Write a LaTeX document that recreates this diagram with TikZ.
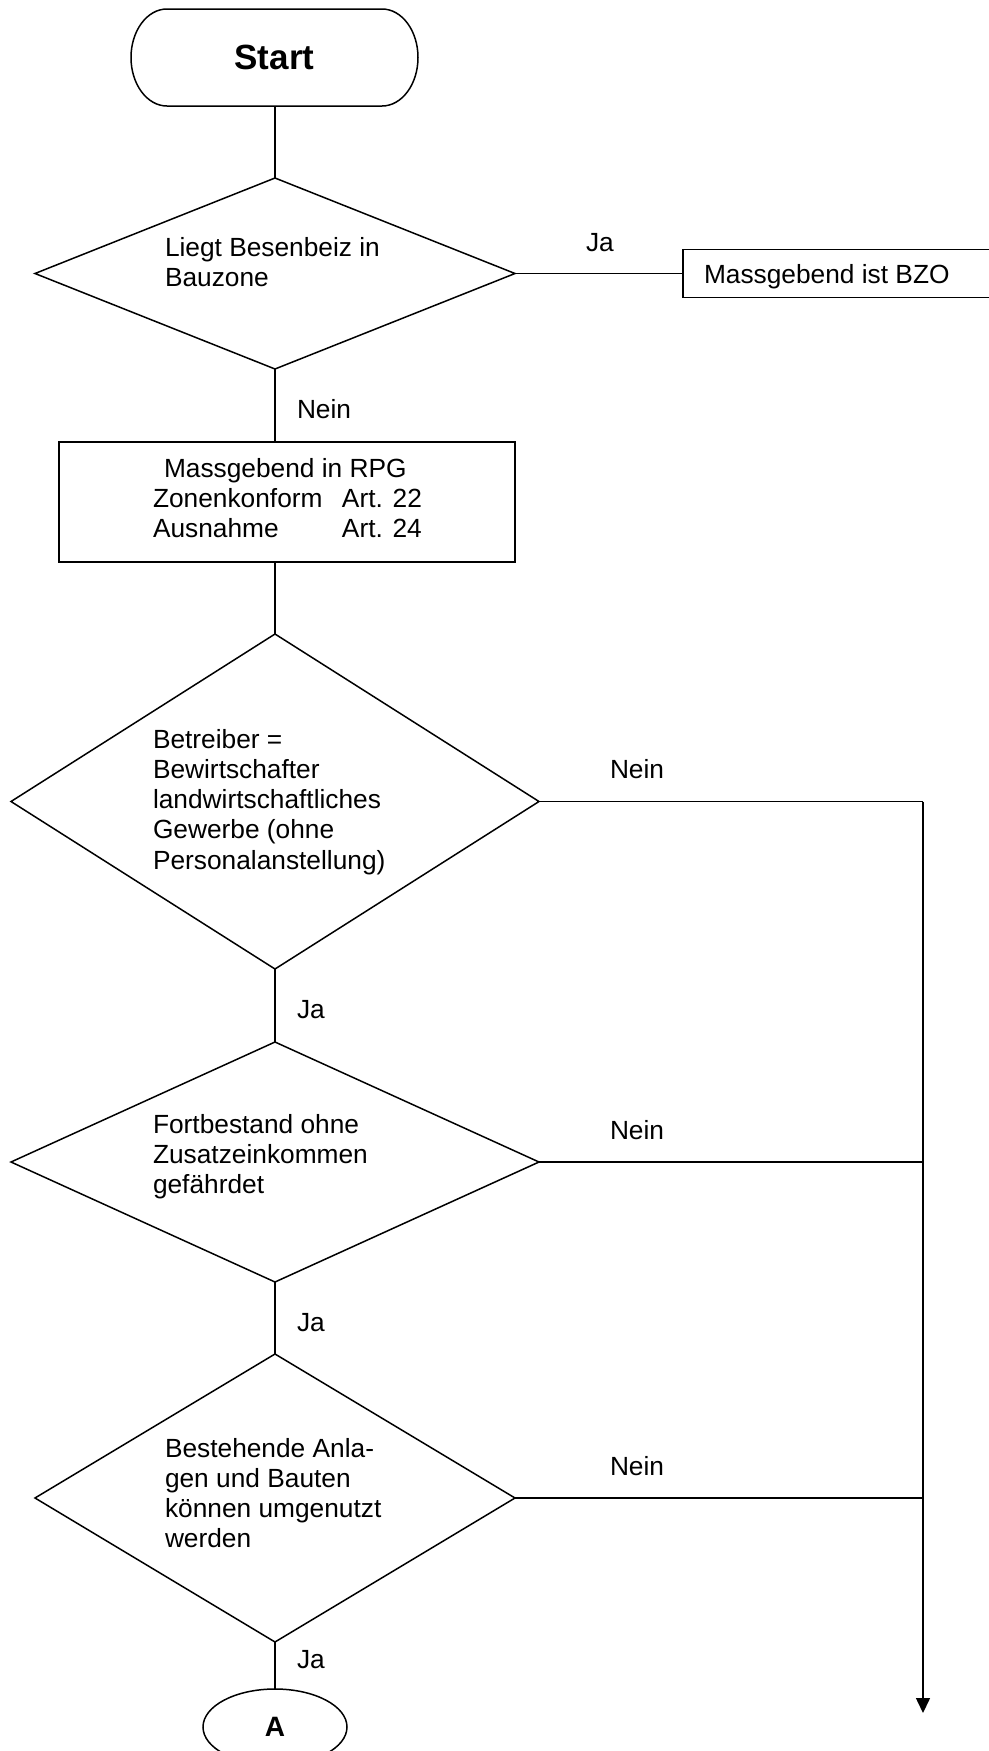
\documentclass[tikz,border=0pt]{standalone}
\usepackage{fontspec}
\setmainfont{Liberation Sans}
\usetikzlibrary{shapes.geometric,arrows.meta}
\begin{document}
\begin{tikzpicture}[x=1pt,y=-1pt,line width=1.5pt,
  every node/.style={inner sep=0pt,outer sep=0pt},
  dec/.style 2 args={draw,diamond,minimum width=#1,minimum height=#2},
  stepbox/.style={draw,rectangle},
  txt/.style={anchor=north west,align=left,font=\fontsize{26.3}{30.3}\selectfont},
  lbl/.style={anchor=base west,font=\fontsize{26.3}{30.3}\selectfont},
  tip/.style={-{Triangle[length=15pt,width=14pt]}}]
\useasboundingbox (0,0) rectangle (988,1751);
% nodes
\node[minimum width=287pt,minimum height=97pt] (start) at (274.5,57.5)
  {\fontsize{35}{40}\selectfont\bfseries Start};
\draw ([xshift=36pt]start.north west) -- ([xshift=-36pt]start.north east)
  arc[start angle=90,end angle=-90,x radius=36pt,y radius=48.5pt]
  -- ([xshift=36pt]start.south west)
  arc[start angle=270,end angle=90,x radius=36pt,y radius=48.5pt] -- cycle;
\node[dec={480pt}{191pt}] (d1) at (275,273.5) {};
\node[txt] (t1) at (165,{256-21.2}) {\strut Liegt Besenbeiz in\\Bauzone};
\node[stepbox,anchor=west,minimum width=330pt,minimum height=48pt] (bzo) at (683,273.5) {};
\node[lbl] (bzot) at (704,283) {Massgebend ist BZO};
\node[stepbox,minimum width=456pt,minimum height=120pt] (rpg) at (287,502) {};
\node[txt] (rpgt) at (153,{477-21.2}) {\strut\hspace*{11pt}Massgebend in RPG\\
  \makebox[189pt][l]{Zonenkonform}Art. 22\\
  \makebox[189pt][l]{Ausnahme}Art. 24};
\node[dec={528pt}{335pt}] (d2) at (275,801.5) {};
\node[txt] (t2) at (153,{748-21.2}) {\strut Betreiber =\\Bewirtschafter\\landwirtschaftliches\\Gewerbe (ohne\\Personalanstellung)};
\node[dec={528pt}{240pt}] (d3) at (275,1162) {};
\node[txt] (t3) at (153,{1133-21.2}) {\strut Fortbestand ohne\\Zusatzeinkommen\\gefährdet};
\node[dec={480pt}{288pt}] (d4) at (275,1498) {};
\node[txt] (t4) at (165,{1457-21.2}) {\strut Bestehende Anla-\\gen und Bauten\\können umgenutzt\\werden};
\node[draw,ellipse,minimum width=144pt,minimum height=76pt] (A) at (275,1727)
  {\fontsize{28}{30}\selectfont\bfseries A};
\coordinate (end) at (923,1713);
% labels
\node[lbl] (ja1) at (586,251) {Ja};
\node[lbl] (nein1) at (297,418) {Nein};
\node[lbl] (nein2) at (610,778) {Nein};
\node[lbl] (ja2) at (297,1018) {Ja};
\node[lbl] (nein3) at (610,1139) {Nein};
\node[lbl] (ja3) at (297,1331) {Ja};
\node[lbl] (nein4) at (610,1475) {Nein};
\node[lbl] (ja4) at (297,1668) {Ja};
% connectors
\draw (start.south -| d1.north) -- (d1.north);
\draw (d1.east) -- (bzo.west);
\draw (d1.south) -- (d1.south |- rpg.north);
\draw (d2.north |- rpg.south) -- (d2.north);
\draw (d2) -- (d3);
\draw (d3) -- (d4);
\draw (d4) -- (A);
\draw (d2.east) -- (d2.east -| end);
\draw[tip] (d2.east -| end) -- (end);
\draw (d3.east) -- (d3.east -| end);
\draw (d4.east) -- (d4.east -| end);
\end{tikzpicture}
\end{document}
